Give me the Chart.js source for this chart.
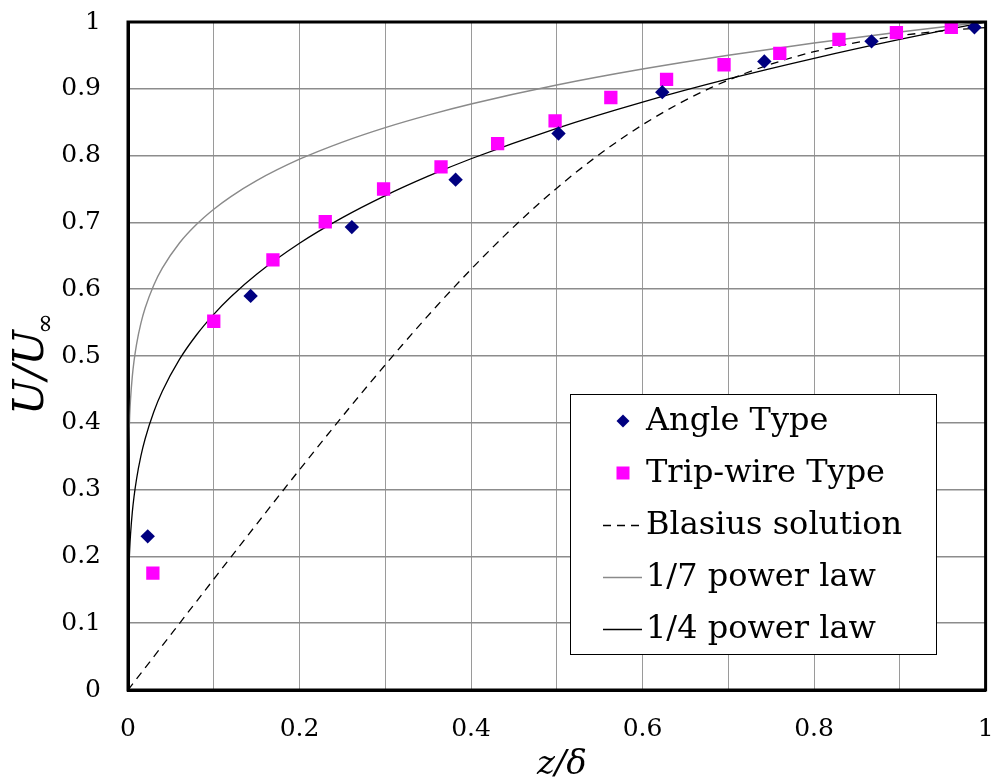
<!DOCTYPE html>
<html>
<head>
<meta charset="utf-8">
<script src="https://cdn.jsdelivr.net/npm/chart.js@4.4.1/dist/chart.umd.min.js"></script>
<style>
  html, body { margin: 0; padding: 0; background: #fff; }
  #wrap { width: 995px; height: 780px; position: relative; }
</style>
</head>
<body>
<div id="wrap"><canvas id="chart" width="995" height="780"></canvas></div>
<script>
const angleX = [0.023, 0.143, 0.261, 0.382, 0.502, 0.623, 0.742, 0.867, 0.987];
const angleY = [0.230, 0.590, 0.693, 0.764, 0.833, 0.895, 0.941, 0.971, 0.992];

const tripX = [0.029, 0.100, 0.169, 0.230, 0.298, 0.365, 0.431, 0.498, 0.563, 0.628, 0.695, 0.760, 0.829, 0.896, 0.960];
const tripY = [0.175, 0.552, 0.644, 0.701, 0.750, 0.783, 0.818, 0.852, 0.887, 0.914, 0.936, 0.953, 0.974, 0.984, 0.992];

// Reference curves
const blasiusX = [0, 0.04, 0.08, 0.12, 0.16, 0.20, 0.24, 0.28, 0.32, 0.36, 0.40, 0.44, 0.48, 0.52, 0.56, 0.60, 0.64, 0.68, 0.72, 0.76, 0.80, 0.84, 0.88, 0.92, 0.96, 1.00];
const blasiusY = [0, 0.0664, 0.1328, 0.1989, 0.2647, 0.3298, 0.3938, 0.4563, 0.5168, 0.5748, 0.6298, 0.6813, 0.7290, 0.7725, 0.8115, 0.8461, 0.8761, 0.9018, 0.9233, 0.9411, 0.9555, 0.9670, 0.9759, 0.9827, 0.9878, 0.9916];

const powX = [0, 0.000001, 0.00001, 0.0001, 0.0005, 0.001, 0.002, 0.003, 0.005, 0.007, 0.01, 0.015, 0.02, 0.03, 0.04, 0.06, 0.08, 0.1, 0.12, 0.15, 0.2, 0.25, 0.3, 0.35, 0.4, 0.5, 0.6, 0.7, 0.8, 0.9, 1];
const pow7Y = [0, 0.1389, 0.1931, 0.2683, 0.3376, 0.3728, 0.4116, 0.4361, 0.4691, 0.4922, 0.5179, 0.5488, 0.5718, 0.6060, 0.6314, 0.6691, 0.6971, 0.7197, 0.7387, 0.7626, 0.7946, 0.8203, 0.8420, 0.8607, 0.8773, 0.9057, 0.9296, 0.9503, 0.9686, 0.9851, 1];
const pow4Y = [0, 0.0316, 0.0562, 0.1, 0.1495, 0.1778, 0.2115, 0.2340, 0.2659, 0.2892, 0.3162, 0.3500, 0.3761, 0.4162, 0.4472, 0.4949, 0.5318, 0.5623, 0.5886, 0.6223, 0.6687, 0.7071, 0.7401, 0.7692, 0.7953, 0.8409, 0.8801, 0.9147, 0.9457, 0.9740, 1];

const xTickLabels = ["0", "", "0.2", "", "0.4", "", "0.6", "", "0.8", "", "1"];
const yTickLabels = ["0", "0.1", "0.2", "0.3", "0.4", "0.5", "0.6", "0.7", "0.8", "0.9", "1"];

const legendLabels = ["Angle Type", "Trip-wire Type", "Blasius solution", "1/7 power law", "1/4 power law"];

const SERIF = "'DejaVu Serif', 'Liberation Serif', serif";

function toPoints(xs, ys) {
  return xs.map((x, i) => ({ x: x, y: ys[i] }));
}

// frame, axis titles and the boxed legend
const decorPlugin = {
  id: "decor",
  afterDraw(chart) {
    const ctx = chart.ctx;
    const a = chart.chartArea;
    ctx.save();

    // thick frame
    ctx.strokeStyle = "#000";
    ctx.lineWidth = 3;
    ctx.strokeRect(a.left, a.top, a.right - a.left, a.bottom - a.top);

    // y title: U/U with subscript infinity
    ctx.fillStyle = "#000";
    ctx.save();
    ctx.translate(43, 415);
    ctx.rotate(-Math.PI / 2);
    ctx.font = "italic 42px " + SERIF;
    ctx.textBaseline = "alphabetic";
    ctx.textAlign = "left";
    ctx.fillText("U/U", 0, 0);
    const w = ctx.measureText("U/U").width;
    ctx.font = "italic 25px " + SERIF;
    ctx.fillText("\u221E", w - 4, 10);
    ctx.restore();

    // x title
    ctx.font = "italic 34px " + SERIF;
    ctx.textAlign = "center";
    ctx.textBaseline = "alphabetic";
    ctx.fillText("z/\u03B4", (a.left + a.right) / 2 + 5, 774);

    // legend box
    const lx = 570.5, ly = 394.5, lw = 366, lh = 260;
    ctx.fillStyle = "#fff";
    ctx.fillRect(lx, ly, lw, lh);
    ctx.strokeStyle = "#000";
    ctx.lineWidth = 1;
    ctx.strokeRect(lx, ly, lw, lh);

    const rowY = [421, 473, 525, 577, 629];
    const sx0 = 603, sx1 = 642, sc = 623;
    const ds = chart.data.datasets;
    legendLabels.forEach((label, i) => {
      const y = rowY[i];
      const d = ds[i];
      if (i === 0) {
        ctx.fillStyle = d.backgroundColor;
        ctx.beginPath();
        ctx.moveTo(sc, y - 6.5);
        ctx.lineTo(sc + 6.5, y);
        ctx.lineTo(sc, y + 6.5);
        ctx.lineTo(sc - 6.5, y);
        ctx.closePath();
        ctx.fill();
      } else if (i === 1) {
        ctx.fillStyle = d.backgroundColor;
        ctx.fillRect(sc - 6.5, y - 6.5, 13, 13);
      } else {
        ctx.strokeStyle = d.borderColor;
        ctx.lineWidth = d.borderWidth;
        ctx.setLineDash(d.borderDash || []);
        ctx.beginPath();
        ctx.moveTo(sx0, y + 0.5);
        ctx.lineTo(sx1, y + 0.5);
        ctx.stroke();
        ctx.setLineDash([]);
      }
      ctx.fillStyle = "#000";
      ctx.font = "32px " + SERIF;
      ctx.textAlign = "left";
      ctx.textBaseline = "middle";
      ctx.fillText(label, 646, y + 1);
    });

    ctx.restore();
  }
};

new Chart(document.getElementById("chart"), {
  type: "scatter",
  data: {
    datasets: [
      {
        label: legendLabels[0],
        data: toPoints(angleX, angleY),
        pointStyle: "rectRot",
        pointRadius: 7.2,
        pointHoverRadius: 7.2,
        backgroundColor: "#000080",
        borderColor: "#000080",
        borderWidth: 0,
        order: 0
      },
      {
        label: legendLabels[1],
        data: toPoints(tripX, tripY),
        pointStyle: "rect",
        pointRadius: 9.4,
        pointHoverRadius: 9.4,
        backgroundColor: "#ff00ff",
        borderColor: "#ff00ff",
        borderWidth: 0,
        order: 0
      },
      {
        label: legendLabels[2],
        data: toPoints(blasiusX, blasiusY),
        showLine: true,
        pointRadius: 0,
        borderColor: "#000",
        borderWidth: 1.3,
        borderDash: [8, 6],
        cubicInterpolationMode: "monotone",
        order: 1
      },
      {
        label: legendLabels[3],
        data: toPoints(powX, pow7Y),
        showLine: true,
        pointRadius: 0,
        borderColor: "#8a8a8a",
        borderWidth: 1.4,
        cubicInterpolationMode: "monotone",
        order: 1
      },
      {
        label: legendLabels[4],
        data: toPoints(powX, pow4Y),
        showLine: true,
        pointRadius: 0,
        borderColor: "#000",
        borderWidth: 1.3,
        cubicInterpolationMode: "monotone",
        order: 1
      }
    ]
  },
  options: {
    responsive: false,
    animation: false,
    events: [],
    layout: { padding: { left: 0, right: 9, top: 22, bottom: 0 } },
    plugins: {
      legend: { display: false },
      tooltip: { enabled: false }
    },
    scales: {
      x: {
        type: "linear",
        min: 0,
        max: 1,
        afterFit: (scale) => {
          scale.height = 90;
          scale.paddingLeft = 0;
          scale.paddingRight = 0;
        },
        afterBuildTicks: (scale) => {
          scale.ticks = xTickLabels.map((_, i) => ({ value: i / 10 }));
        },
        ticks: {
          padding: 24,
          autoSkip: false,
          maxRotation: 0,
          color: "#000",
          font: { family: SERIF, size: 25 },
          callback: (value, index) => xTickLabels[index]
        },
        grid: { color: "#9a9a9a", lineWidth: 1, drawTicks: false },
        border: { display: true, color: "#000", width: 3 }
      },
      y: {
        type: "linear",
        min: 0,
        max: 1,
        afterFit: (scale) => {
          scale.width = 128;
          scale.paddingTop = 0;
          scale.paddingBottom = 0;
        },
        afterBuildTicks: (scale) => {
          scale.ticks = yTickLabels.map((_, i) => ({ value: i / 10 }));
        },
        ticks: {
          padding: 27,
          autoSkip: false,
          color: "#000",
          font: { family: SERIF, size: 25 },
          callback: (value, index) => yTickLabels[index]
        },
        grid: { color: "#8c8c8c", lineWidth: 1.6, drawTicks: false },
        border: { display: true, color: "#000", width: 3 }
      }
    }
  },
  plugins: [decorPlugin]
});
</script>
</body>
</html>
